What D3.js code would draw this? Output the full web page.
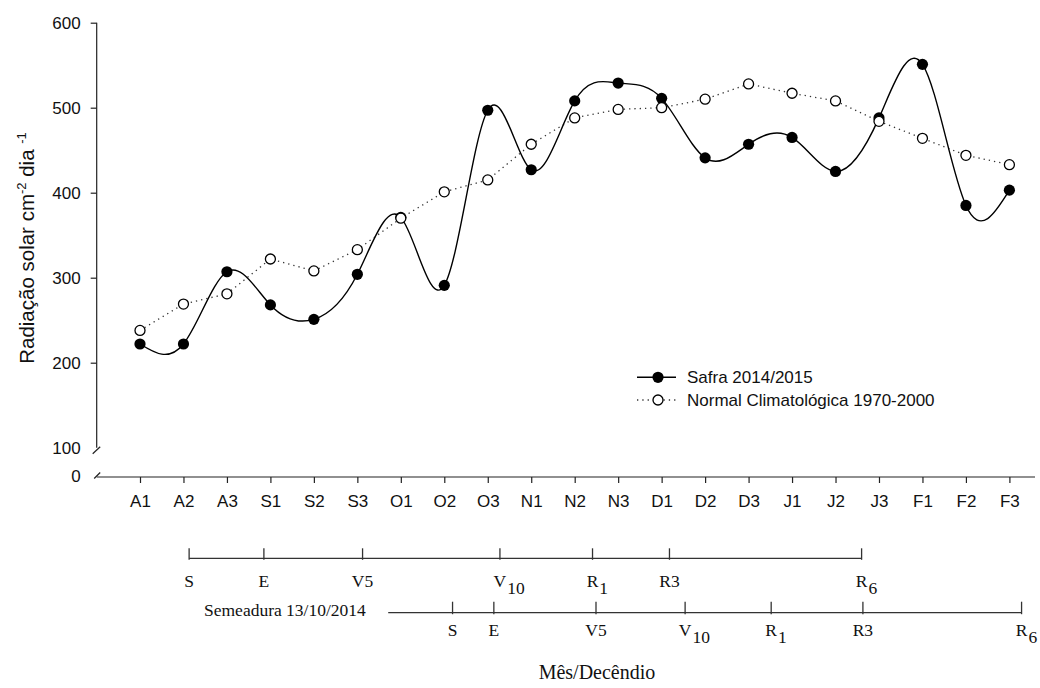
<!DOCTYPE html>
<html>
<head>
<meta charset="utf-8">
<script src="https://cdn.jsdelivr.net/npm/d3@7"></script>
<style>
body{margin:0;background:#fff;}
</style>
</head>
<body>
<div class="canvas"></div>
<script>

// decendios (mes + decendio)
const decendios = ['A1','A2','A3','S1','S2','S3','O1','O2','O3','N1','N2','N3','D1','D2','D3','J1','J2','J3','F1','F2','F3'];
const safra = [222, 222, 307, 268, 251, 304, 371, 291, 497, 427, 508, 529, 511, 441, 457, 465, 425, 488, 551, 385, 403];
const normal = [238, 269, 281, 322, 308, 333, 370, 401, 415, 457, 488, 498, 500, 510, 528, 517, 508, 484, 464, 444, 433];
const yTicks = [100, 200, 300, 400, 500, 600];

// fases fenologicas, posicao em decendios (0 = A1)
const fases = [['S',''],['E',''],['V5',''],['V','10'],['R','1'],['R3',''],['R','6']];
const fase1Pos = [1.13, 2.85, 5.12, 8.28, 10.41, 12.18, 16.6];
const fase2Pos = [7.19, 8.14, 10.49, 12.54, 14.52, 16.63, 20.28];
const fase2Inicio = 5.71;

const W = 1040, H = 688;
const svg = d3.select('.canvas').append('svg').attr('width', W).attr('height', H)
  .style('font-family', 'Arial, "Liberation Sans", sans-serif');

const axisX = 96.7, axisY = 477;

const x = d3.scalePoint().domain(decendios).range([140, 1009.4]);
const xi = d3.scaleLinear().domain([0, 20]).range([140, 1009.4]);
const y = d3.scaleLinear().domain([100, 600]).range([447.7, 22.7]);

// eixo y
const gy = svg.append('g').attr('transform', 'translate(' + axisX + ',0)')
  .call(d3.axisLeft(y).tickValues(yTicks).tickSize(6).tickPadding(10).tickSizeOuter(0));
gy.select('.domain').remove();
gy.selectAll('.tick line').attr('stroke', '#222').attr('stroke-width', 1.2)
  .filter(d => d == 100).remove();
gy.selectAll('.tick text').attr('font-size', 17).attr('fill', '#111')
  .attr('font-family', 'Arial, "Liberation Sans", sans-serif');
svg.append('line').attr('x1', axisX).attr('x2', axisX).attr('y1', y(600)).attr('y2', y(100))
  .attr('stroke', '#222').attr('stroke-width', 1.2);
svg.append('line').attr('x1', axisX - 4).attr('y1', y(100) + 6).attr('x2', axisX + 3.5).attr('y2', y(100) - 1)
  .attr('stroke', '#222').attr('stroke-width', 1.2);
svg.append('text').attr('x', axisX - 16).attr('y', axisY).attr('dy', '0.32em')
  .attr('text-anchor', 'end').attr('font-size', 17).attr('fill', '#111').text('0');

// eixo x
const gx = svg.append('g').attr('transform', 'translate(0,' + axisY + ')')
  .call(d3.axisBottom(x).tickSize(6).tickPadding(12).tickSizeOuter(0));
gx.select('.domain').remove();
gx.selectAll('.tick line').attr('stroke', '#222').attr('stroke-width', 1.2);
gx.selectAll('.tick text').attr('font-size', 17).attr('fill', '#111')
  .attr('font-family', 'Arial, "Liberation Sans", sans-serif');
svg.append('line').attr('x1', axisX).attr('x2', 1035).attr('y1', axisY).attr('y2', axisY)
  .attr('stroke', '#222').attr('stroke-width', 1.2);
svg.append('line').attr('x1', axisX - 2.5).attr('y1', axisY + 1.5).attr('x2', axisX + 3.5).attr('y2', axisY - 4.5)
  .attr('stroke', '#222').attr('stroke-width', 1.2);

// titulo eixo y
const yl = svg.append('text').attr('transform', 'translate(34,248) rotate(-90)')
  .attr('text-anchor', 'middle').attr('font-size', 20.5).attr('fill', '#111');
yl.append('tspan').text('Radiação solar cm');
yl.append('tspan').attr('dy', -8).attr('font-size', 13).text('-2');
yl.append('tspan').attr('dy', 8).text(' dia ');
yl.append('tspan').attr('dy', -8).attr('font-size', 13).text('-1');

// linhas
const normalLine = d3.line().x((d, i) => x(decendios[i])).y(d => y(d));
const safraLine = d3.line().x((d, i) => x(decendios[i])).y(d => y(d)).curve(d3.curveNatural);

svg.append('path').datum(normal).attr('d', normalLine).attr('fill', 'none')
  .attr('stroke', '#333').attr('stroke-width', 1.3).attr('stroke-dasharray', '1.3,4');
svg.append('path').datum(safra).attr('d', safraLine).attr('fill', 'none')
  .attr('stroke', '#000').attr('stroke-width', 1.4);

svg.selectAll('.safra').data(safra).enter().append('circle').attr('class', 'safra')
  .attr('cx', (d, i) => x(decendios[i])).attr('cy', d => y(d)).attr('r', 5.6).attr('fill', '#000');
svg.selectAll('.normal').data(normal).enter().append('circle').attr('class', 'normal')
  .attr('cx', (d, i) => x(decendios[i])).attr('cy', d => y(d)).attr('r', 5).attr('fill', '#fff')
  .attr('stroke', '#000').attr('stroke-width', 1.3);

// legenda
svg.append('line').attr('x1', 637).attr('x2', 676).attr('y1', 377.3).attr('y2', 377.3)
  .attr('stroke', '#000').attr('stroke-width', 1.4);
svg.append('circle').attr('cx', 658).attr('cy', 377.3).attr('r', 5.6).attr('fill', '#000');
svg.append('text').attr('x', 687).attr('y', 383).attr('font-size', 17).attr('fill', '#111').text('Safra 2014/2015');
svg.append('line').attr('x1', 637).attr('x2', 676).attr('y1', 400).attr('y2', 400)
  .attr('stroke', '#333').attr('stroke-width', 1.3).attr('stroke-dasharray', '1.3,4');
svg.append('circle').attr('cx', 658).attr('cy', 400).attr('r', 5).attr('fill', '#fff')
  .attr('stroke', '#000').attr('stroke-width', 1.3);
svg.append('text').attr('x', 687).attr('y', 406).attr('font-size', 17).attr('fill', '#111').text('Normal Climatológica 1970-2000');

// fenologia
const serif = '"Liberation Serif", "Times New Roman", serif';

function fenologia(pos, inicio, lineY, tickUp, labelY) {
  const g = svg.append('g');
  g.append('line').attr('x1', xi(inicio)).attr('x2', xi(pos[pos.length - 1]))
    .attr('y1', lineY).attr('y2', lineY).attr('stroke', '#333').attr('stroke-width', 1.3);
  pos.forEach((p, i) => {
    g.append('line').attr('x1', xi(p)).attr('x2', xi(p)).attr('y1', lineY - tickUp).attr('y2', lineY + 1.5)
      .attr('stroke', '#333').attr('stroke-width', 1.3);
    const main = g.append('text').attr('x', xi(p)).attr('y', labelY).attr('text-anchor', 'middle')
      .attr('font-family', serif).attr('font-size', 17.5).attr('fill', '#111').text(fases[i][0]);
    if (fases[i][1]) {
      const w = main.node().getComputedTextLength();
      g.append('text').attr('x', xi(p) + w / 2 + 1).attr('y', labelY + 7)
        .attr('font-family', serif).attr('font-size', 17.5).attr('fill', '#111').text(fases[i][1]);
    }
  });
}

fenologia(fase1Pos, fase1Pos[0], 558.3, 10, 587);
fenologia(fase2Pos, fase2Inicio, 612.7, 11, 636);

svg.append('text').attr('x', 204).attr('y', 616).attr('font-family', serif).attr('font-size', 17.5)
  .attr('fill', '#111').text('Semeadura 13/10/2014');

svg.append('text').attr('x', 597).attr('y', 679).attr('text-anchor', 'middle').attr('font-family', serif)
  .attr('font-size', 20).attr('fill', '#111').text('Mês/Decêndio');

</script>
</body>
</html>
